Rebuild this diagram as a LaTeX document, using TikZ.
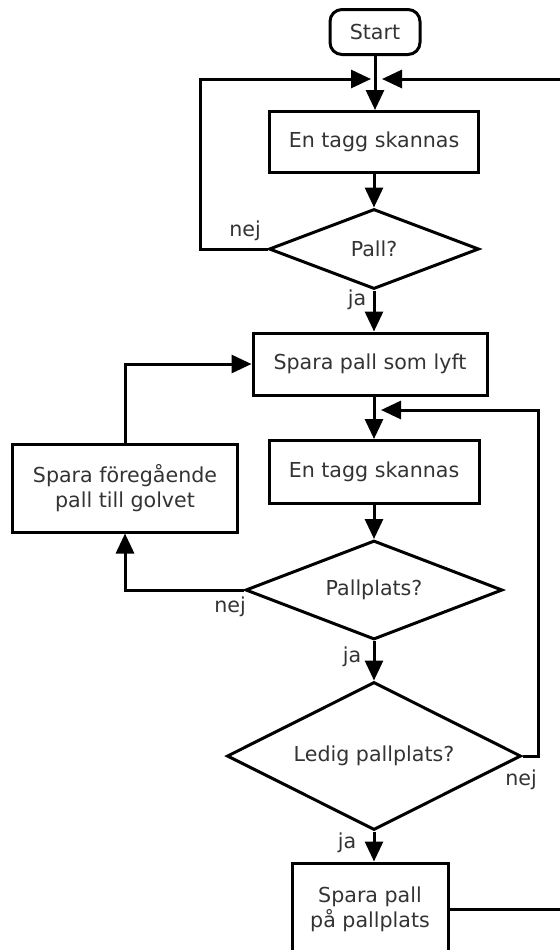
\documentclass[tikz,border=0pt]{standalone}
\usepackage{fontspec}
\setmainfont{DejaVu Sans}
\usetikzlibrary{shapes.geometric,arrows.meta}

\begin{document}
\begin{tikzpicture}[x=0.5pt,y=-0.5pt,
    font=\fontsize{10.3}{12.5}\selectfont,
    every node/.style={text=black!80},
    box/.style={draw=black,line width=1.5pt,align=center,inner sep=0pt},
    terminal/.style={box,rounded corners=6pt},
    decision/.style={draw=black,line width=1.5pt,diamond,aspect=2.5,align=center,inner sep=0pt},
    flow/.style={line width=1.5pt,-{Triangle[length=10pt,width=9pt]}}]
  \useasboundingbox (0,0) rectangle (560,950);
  \clip (0,0) rectangle (560,950);

  % steps
  \node[terminal,minimum width=45pt,minimum height=22.5pt] (start) at (375,32) {Start};
  \node[box,minimum width=104.5pt,minimum height=30.5pt] (scan1) at (374,142) {En tagg skannas};
  \node[decision,minimum width=105pt,minimum height=40pt] (pall) at (374,249) {Pall?};
  \node[box,minimum width=117pt,minimum height=31pt] (lyft) at (370,364) {Spara pall som lyft};
  \node[box,minimum width=105pt,minimum height=31.5pt] (scan2) at (374,472) {En tagg skannas};
  \node[box,minimum width=112.5pt,minimum height=44pt] (golv) at (125,488) {Spara föregående\\pall till golvet};
  \node[decision,minimum width=128.5pt,minimum height=49.5pt] (plats) at (374,590) {Pallplats?};
  \node[decision,aspect=2,minimum width=147pt,minimum height=74pt] (ledig) at (374,756) {Ledig pallplats?};
  \node[box,minimum width=78pt,minimum height=46pt] (spara) at (370,909) {Spara pall\\på pallplats};

  % arrow tips that meet the spine
  \coordinate (topL) at (371,79);
  \coordinate (topR) at (382,79);
  \coordinate (midR) at (381,410);

  \draw[flow] (start.south) -- (start.south |- scan1.north);
  \draw[flow] (scan1) -- (pall);
  \draw[flow] (pall.west) -- ++(-67,0) |- (topL);
  \draw[flow] (pall.south) -- (pall.south |- lyft.north);
  \draw[flow] (lyft.south -| scan2.north) -- (scan2.north);
  \draw[flow] (scan2) -- (plats);
  \draw[flow] (plats.west) -| (golv.south);
  \draw[flow] (golv.north) |- (lyft.west);
  \draw[flow] (plats) -- (ledig);
  \draw[flow] (ledig.east) -- ++(16,0) |- (midR);
  \draw[flow] (ledig.south) -- (ledig.south |- spara.north);
  \draw[flow] (spara.east) -- ++(130,0) |- (topR);

  % answers
  \node (nej1) at (245,231) {nej};
  \node (ja1) at (357,300) {ja};
  \node (nej2) at (230,607) {nej};
  \node (ja2) at (352,657) {ja};
  \node (nej3) at (521,780) {nej};
  \node (ja3) at (347,843) {ja};
\end{tikzpicture}
\end{document}
